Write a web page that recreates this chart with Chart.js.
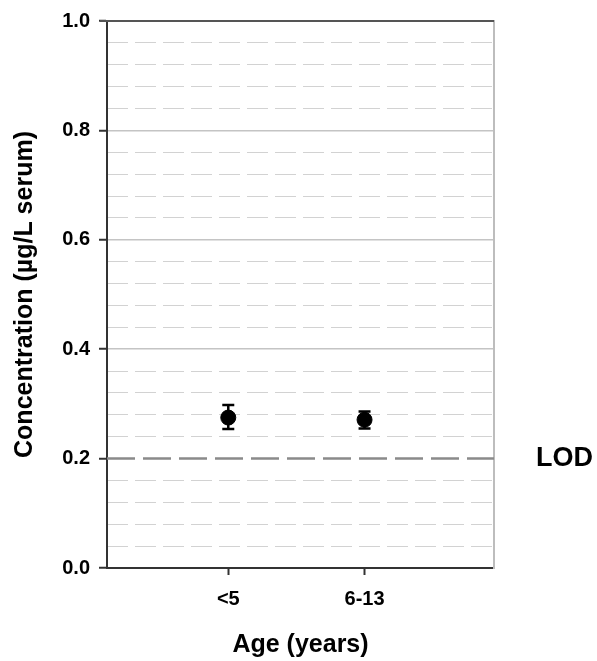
<!DOCTYPE html>
<html>
<head>
<meta charset="utf-8">
<script src="https://cdn.jsdelivr.net/npm/chart.js@4.4.1/dist/chart.umd.min.js"></script>
<style>
  body { margin: 0; background: #fff; }
  #wrap { width: 597px; height: 661px; position: relative; }
</style>
</head>
<body>
<div id="wrap"><canvas id="ageChart"></canvas></div>
<script>
// Data
const AGE_LABELS = ['<5', '6-13'];
const AGE_POS = [1, 2];
const MEAN = [0.275, 0.271];
const LOWER = [0.254, 0.255];
const UPPER = [0.298, 0.286];
const LOD = 0.2;
const Y_TICKS = [0, 0.2, 0.4, 0.6, 0.8, 1.0];

const X_MIN = 0.11;
const X_MAX = 2.95;
const FONT = "'Liberation Sans', Arial, sans-serif";
const DARK = '#333333';

function isMajor(v) {
    return Math.abs(v * 5 - Math.round(v * 5)) < 1e-6;
}

// top frame line at y = 1.0
const topFrame = {
    id: 'topFrame',
    afterDraw(chart) {
        const { ctx, scales: { x, y } } = chart;
        const py = y.getPixelForValue(y.max);
        ctx.save();
        ctx.strokeStyle = '#555';
        ctx.lineWidth = 2;
        ctx.beginPath();
        ctx.moveTo(x.left - 7, py);
        ctx.lineTo(x.right, py);
        ctx.stroke();
        ctx.restore();
    }
};

// vertical error bars with caps
const errorBars = {
    id: 'errorBars',
    afterDatasetsDraw(chart) {
        const { ctx, scales: { x, y } } = chart;
        ctx.save();
        ctx.strokeStyle = '#000';
        ctx.lineWidth = 2.5;
        AGE_POS.forEach((xv, i) => {
            const px = x.getPixelForValue(xv);
            const top = y.getPixelForValue(UPPER[i]);
            const bot = y.getPixelForValue(LOWER[i]);
            ctx.beginPath();
            ctx.moveTo(px, top); ctx.lineTo(px, bot);
            ctx.moveTo(px - 6, top); ctx.lineTo(px + 6, top);
            ctx.moveTo(px - 6, bot); ctx.lineTo(px + 6, bot);
            ctx.stroke();
        });
        ctx.restore();
    }
};

const ctx = document.getElementById('ageChart').getContext('2d');
new Chart(ctx, {
    type: 'scatter',
    data: {
        datasets: [
            {
                label: 'Mean',
                data: AGE_POS.map((xv, i) => ({ x: xv, y: MEAN[i] })),
                backgroundColor: '#000',
                borderColor: '#000',
                pointRadius: 7.5,
                pointHoverRadius: 7.5,
                order: 1
            },
            {
                type: 'line',
                label: 'LOD',
                data: [{ x: X_MIN, y: LOD }, { x: X_MAX, y: LOD }],
                borderColor: '#8a8a8a',
                borderWidth: 2.5,
                borderDash: [28, 8],
                pointRadius: 0,
                fill: false,
                order: 2
            }
        ]
    },
    options: {
        responsive: true,
        maintainAspectRatio: false,
        animation: false,
        layout: { padding: { top: 21, left: 0, right: 0, bottom: 0 } },
        plugins: {
            legend: { display: false },
            tooltip: { enabled: false }
        },
        scales: {
            x: {
                type: 'linear',
                position: 'bottom',
                min: X_MIN,
                max: X_MAX,
                afterBuildTicks: axis => { axis.ticks = AGE_POS.map(v => ({ value: v })); },
                afterFit: axis => { axis.height = 93; },
                ticks: {
                    autoSkip: false,
                    maxRotation: 0,
                    padding: 12,
                    color: '#000',
                    font: { family: FONT, size: 20, weight: 'bold' },
                    callback: (v, i) => AGE_LABELS[i]
                },
                grid: {
                    drawOnChartArea: false,
                    tickLength: 7,
                    tickWidth: 2,
                    tickColor: DARK
                },
                border: { color: DARK, width: 2 },
                title: {
                    display: true,
                    text: 'Age (years)',
                    color: '#000',
                    font: { family: FONT, size: 25, weight: 'bold' },
                    padding: { top: 0, bottom: 1 }
                }
            },
            y: {
                position: 'left',
                min: 0,
                max: 1,
                afterBuildTicks: axis => { axis.ticks = Y_TICKS.map(v => ({ value: v })); },
                afterFit: axis => { axis.width = 107; },
                ticks: {
                    padding: 9,
                    color: '#000',
                    font: { family: FONT, size: 20, weight: 'bold' },
                    callback: v => v.toFixed(1)
                },
                grid: {
                    color: c => (c.tick && (c.tick.value === 0 || c.tick.value === 1 || Math.abs(c.tick.value - LOD) < 1e-6)) ? 'rgba(0,0,0,0)' : '#c4c4c4',
                    lineWidth: 1.5,
                    tickLength: 8,
                    tickWidth: 2,
                    tickColor: DARK
                },
                border: { color: DARK, width: 2 },
                title: {
                    display: true,
                    text: 'Concentration (µg/L serum)',
                    color: '#000',
                    font: { family: FONT, size: 25, weight: 'bold' },
                    padding: { top: 10, bottom: 0 }
                }
            },
            yMinor: {
                position: 'left',
                min: 0,
                max: 1,
                afterFit: axis => { axis.width = 0; },
                ticks: { display: false, stepSize: 0.04 },
                grid: {
                    drawTicks: false,
                    color: c => (c.tick && isMajor(c.tick.value)) ? 'rgba(0,0,0,0)' : '#d2d2d2',
                    lineWidth: 1
                },
                border: { display: false, dash: [21, 7] }
            },
            yRight: {
                position: 'right',
                min: 0,
                max: 1,
                afterBuildTicks: axis => { axis.ticks = [{ value: LOD }]; },
                afterFit: axis => { axis.width = 103; },
                ticks: {
                    padding: 0,
                    color: '#000',
                    font: { family: FONT, size: 27, weight: 'bold' },
                    callback: () => 'LOD'
                },
                grid: {
                    drawOnChartArea: false,
                    drawTicks: true,
                    tickLength: 42,
                    tickColor: 'rgba(0,0,0,0)'
                },
                border: { color: '#bdbdbd', width: 2 }
            }
        }
    },
    plugins: [errorBars, topFrame]
});
</script>
</body>
</html>
